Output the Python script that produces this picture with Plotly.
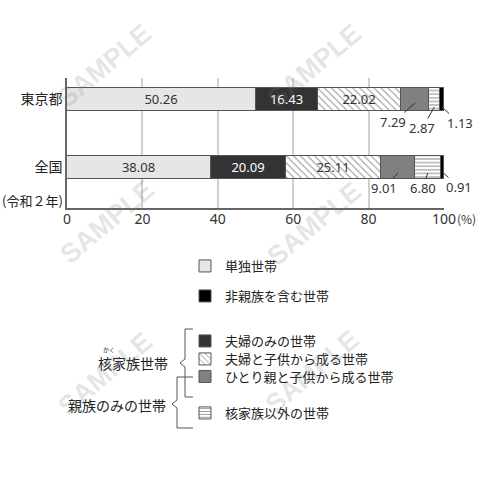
import plotly.graph_objects as go

# data
categories = ["東京都", "全国"]
household_types = ["単独世帯", "夫婦のみの世帯", "夫婦と子供から成る世帯",
                   "ひとり親と子供から成る世帯", "核家族以外の世帯", "非親族を含む世帯"]
tokyo_vals = [50.26, 16.43, 22.02, 7.29, 2.87, 1.13]
zenkoku_vals = [38.08, 20.09, 25.11, 9.01, 6.80, 0.91]
x_ticks = [0, 20, 40, 60, 80, 100]

# plot box in pixels (480x480 page)
L, R, T, B = 67, 444, 78, 208


def px(x, y):
    # page pixel -> paper coords
    return (x - L) / (R - L), (B - y) / (B - T)


FONT = "Noto Sans CJK JP"
NUM_FONT = "Noto Sans"

styles = [
    dict(color="#e6e6e6"),
    dict(color="#333333"),
    dict(color="white", pattern=dict(shape="\\", fgcolor="#222222", bgcolor="white", size=5, solidity=0.2)),
    dict(color="#808080"),
    dict(color="white", pattern=dict(shape="-", fgcolor="#222222", bgcolor="white", size=3.6, solidity=0.3)),
    dict(color="#000000"),
]
text_colors = ["#333333", "white", "#333333", None, None, None]
legend_ids = ["legend", "legend3", "legend4", "legend5", "legend6", "legend2"]

fig = go.Figure()
for i, name in enumerate(household_types):
    vals = [tokyo_vals[i], zenkoku_vals[i]]
    show_text = text_colors[i] is not None
    fig.add_trace(go.Bar(
        x=vals, y=categories, orientation="h", name=name,
        width=0.34,
        marker=dict(line=dict(color="#555555", width=1), **styles[i]),
        text=[f"{v:.2f}" for v in vals] if show_text else None,
        textposition="inside" if show_text else "none",
        insidetextanchor="middle", textangle=0, constraintext="none",
        textfont=dict(family=NUM_FONT, size=13, color=text_colors[i] or "#333"),
        legend=legend_ids[i], showlegend=True, hoverinfo="skip",
    ))

annotations = []

# leader-line labels for the small segments
# (index, row values, category, yshift, ax, ay)
outside = [
    (3, tokyo_vals, "東京都", -3.5, -22, 19),
    (4, tokyo_vals, "東京都", -7.5, -12, 21),
    (5, tokyo_vals, "東京都", -7.5, 18, 16),
    (3, zenkoku_vals, "全国", -6, -14, 15),
    (4, zenkoku_vals, "全国", -6, -5, 15),
    (5, zenkoku_vals, "全国", -5, 17, 15),
]
for idx, row, cat, ys, ax, ay in outside:
    mid = sum(row[:idx]) + row[idx] / 2
    annotations.append(dict(
        x=mid, y=cat, xref="x", yref="y", text=f"{row[idx]:.2f}",
        showarrow=True, arrowhead=0, arrowwidth=1, arrowcolor="#333",
        ax=ax, ay=ay, yshift=ys, standoff=0, borderpad=0,
        font=dict(family=NUM_FONT, size=13, color="#333"),
    ))

# axis extras
annotations.append(dict(x=100, y=0, xref="x", yref="paper", text="(%)", showarrow=False,
                        xanchor="left", yanchor="middle", xshift=11, yshift=-10,
                        font=dict(family=FONT, size=12, color="#333")))
annotations.append(dict(x=0, y="全国", xref="paper", yref="y", text="(令和２年)",
                        showarrow=False, xanchor="right", yanchor="middle",
                        xshift=-2, yshift=-33,
                        font=dict(family=FONT, size=13, color="#222")))

# bracket labels
ann_txt = [
    ("核家族世帯", 170, 363, "right", 14),
    ("親族のみの世帯", 168, 405, "right", 14),
    ("かく", 109, 350, "center", 6),
]
for txt, x, y, anc, size in ann_txt:
    xx, yy = px(x, y)
    annotations.append(dict(x=xx, y=yy, xref="paper", yref="paper", text=txt, showarrow=False,
                            xanchor=anc, yanchor="middle",
                            font=dict(family=FONT, size=size, color="#222")))

# watermark
for wx, wy in [(104, 66), (314, 66), (107, 222), (314, 224), (105, 374), (312, 372)]:
    xx, yy = px(wx, wy)
    annotations.append(dict(x=xx, y=yy, xref="paper", yref="paper", text="<b>SAMPLE</b>",
                            showarrow=False, textangle=-40, xanchor="center", yanchor="middle",
                            font=dict(family="Liberation Sans", size=27, color="rgba(120,120,120,0.2)")))


def bracket(x_line, x_end, y_top, y_bot, y_mid, x_tip):
    pts = [(x_end, y_top), (x_line, y_top), (x_line, y_mid - 4), (x_tip, y_mid),
           (x_line, y_mid + 4), (x_line, y_bot), (x_end, y_bot)]
    d = ""
    for k, (a, b) in enumerate(pts):
        xx, yy = px(a, b)
        d += ("M" if k == 0 else "L") + f"{xx:.4f},{yy:.4f}"
    return dict(type="path", xref="paper", yref="paper", path=d,
                line=dict(color="#555", width=1))


shapes = [
    bracket(185, 193, 329, 397, 363, 180),
    bracket(177, 193, 377, 428, 404, 172),
]

# legends, one per entry so spacing can follow the original
legend_y = {"legend": 266, "legend2": 296, "legend3": 341, "legend4": 359,
            "legend5": 376.5, "legend6": 413}
leg_layout = {}
for lid, y in legend_y.items():
    xx, yy = px(185, y)
    leg_layout[lid] = dict(x=xx, y=yy, xanchor="left", yanchor="middle",
                           bgcolor="rgba(0,0,0,0)", borderwidth=0,
                           font=dict(family=FONT, size=13, color="#222"),
                           itemclick=False, itemdoubleclick=False)

fig.update_layout(
    width=480, height=480,
    margin=dict(l=L, r=480 - R, t=T, b=480 - B),
    paper_bgcolor="white", plot_bgcolor="white",
    barmode="stack", bargap=0,
    showlegend=True,
    xaxis=dict(range=[0, 100], tickvals=x_ticks, ticktext=[str(t) for t in x_ticks],
               showgrid=True, gridcolor="#d0d0d0", gridwidth=1.5,
               showline=True, linecolor="#666", linewidth=1.5, zeroline=False,
               ticks="", ticklabelstandoff=-3,
               tickfont=dict(family=NUM_FONT, size=14, color="#333")),
    yaxis=dict(type="category", categoryorder="array", categoryarray=["全国", "東京都"],
               range=[-0.607, 1.319], showgrid=False,
               showline=True, linecolor="#666", linewidth=1.5, zeroline=False,
               ticks="", tickfont=dict(family=FONT, size=14, color="#222")),
    annotations=annotations,
    shapes=shapes,
    **leg_layout,
)

# the page body has a default margin that pushes the 480px figure off the window
fig.write_html("out.html", config={"displayModeBar": False},
               post_script="document.body.style.margin='0';")
